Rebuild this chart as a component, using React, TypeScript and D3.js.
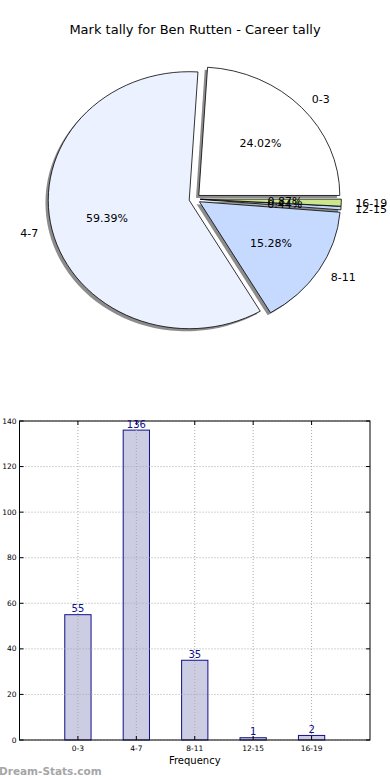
import * as React from 'react';
import * as d3 from 'd3';

// tally data
const categories: string[] = ['0-3', '4-7', '8-11', '12-15', '16-19'];
const counts: number[] = [55, 136, 35, 1, 2];
const sliceColors: string[] = ['#ffffff', '#ebf1ff', '#c6d9ff', '#c2d6ff', '#cce68e'];
const yTicks: number[] = [0, 20, 40, 60, 80, 100, 120, 140];

const title = 'Mark tally for Ben Rutten - Career tally';
const font = 'DejaVu Sans, sans-serif';

// pie geometry (matplotlib style: counter-clockwise from east, elliptical axes)
const pieCx = 194.7;
const pieCy = 199;
const rx = 141;
const ry = 128.5;
const explode = 0.04;
const shadowOffset = 0.02;

// bar chart frame
const plot = { left: 19.5, right: 370, top: 421, bottom: 740 };

const PieChart: React.FC = () => {
	const total = d3.sum(counts);
	// d3 angle a = PI/2 - theta, so going CCW in theta means decreasing a
	const pie = d3
		.pie<number>()
		.sort(null)
		.value((d) => d)
		.startAngle(Math.PI / 2)
		.endAngle(Math.PI / 2 - 2 * Math.PI);
	const arcs = pie(counts);
	const arc = d3.arc<d3.PieArcDatum<number>>().innerRadius(0).outerRadius(1);

	const items = arcs.map((a, i) => {
		const mid = (a.startAngle + a.endAngle) / 2;
		const theta = Math.PI / 2 - mid;
		const c = Math.cos(theta);
		const s = Math.sin(theta);
		const x = pieCx + explode * rx * c;
		const y = pieCy - explode * ry * s;
		return { a, i, c, s, x, y };
	});

	return (
		<g>
			<text x={195} y={34} textAnchor="middle" fontFamily={font} fontSize={13} fill="#000">
				{title}
			</text>
			{items.map(({ a, i, x, y }) => (
				<path
					key={'sh' + i}
					d={arc(a) || ''}
					transform={`translate(${x - shadowOffset * rx},${y + shadowOffset * ry}) scale(${rx},${ry})`}
					fill="#8c8c8c"
					stroke="none"
				/>
			))}
			{items.map(({ a, i, x, y }) => (
				<path
					key={'w' + i}
					d={arc(a) || ''}
					transform={`translate(${x},${y}) scale(${rx},${ry})`}
					fill={sliceColors[i]}
					stroke="#000"
					strokeWidth={0.8}
					vectorEffect="non-scaling-stroke"
				/>
			))}
			{items.map(({ i, c, s, x, y }) => (
				<text
					key={'l' + i}
					x={x + 1.1 * rx * c}
					y={y - 1.1 * ry * s}
					dy="0.35em"
					textAnchor={c > 0 ? 'start' : 'end'}
					fontFamily={font}
					fontSize={11}
					fill="#000"
				>
					{categories[i]}
				</text>
			))}
			{items.map(({ i, c, s, x, y }) => (
				<text
					key={'p' + i}
					x={x + 0.6 * rx * c}
					y={y - 0.6 * ry * s}
					dy="0.35em"
					textAnchor="middle"
					fontFamily={font}
					fontSize={11}
					fill="#000"
				>
					{((counts[i] / total) * 100).toFixed(2) + '%'}
				</text>
			))}
		</g>
	);
};

const BarChart: React.FC = () => {
	const x = d3.scaleLinear().domain([-1, categories.length]).range([plot.left, plot.right]);
	const y = d3.scaleLinear().domain([0, 140]).range([plot.bottom, plot.top]);
	const barWidth = x(0.45) - x(0);
	const navy = '#10108a';

	return (
		<g>
			{counts.map((v, i) => (
				<rect
					key={'b' + i}
					x={x(i) - barWidth / 2}
					y={y(v)}
					width={barWidth}
					height={y(0) - y(v)}
					fill="#ccccE3"
					stroke={navy}
					strokeWidth={1}
				/>
			))}
			{/* dotted grid on top of bars */}
			{yTicks.map((t) => (
				<line key={'gy' + t} x1={plot.left} x2={plot.right} y1={y(t)} y2={y(t)} stroke="#aaaaaa" strokeWidth={1} strokeDasharray="1,2" />
			))}
			{categories.map((c, i) => (
				<line key={'gx' + c} x1={x(i)} x2={x(i)} y1={plot.top} y2={plot.bottom} stroke="#aaaaaa" strokeWidth={1} strokeDasharray="1,2" />
			))}
			<rect x={plot.left} y={plot.top} width={plot.right - plot.left} height={plot.bottom - plot.top} fill="none" stroke="#000" strokeWidth={1} />
			{yTicks.map((t) => (
				<g key={'ty' + t}>
					<line x1={plot.left} x2={plot.left + 4} y1={y(t)} y2={y(t)} stroke="#000" />
					<line x1={plot.right} x2={plot.right - 4} y1={y(t)} y2={y(t)} stroke="#000" />
					<text x={plot.left - 3} y={y(t)} dy="0.35em" textAnchor="end" fontFamily={font} fontSize={7.5} fill="#000">
						{t}
					</text>
				</g>
			))}
			{categories.map((c, i) => (
				<g key={'tx' + c}>
					<line x1={x(i)} x2={x(i)} y1={plot.bottom} y2={plot.bottom - 4} stroke="#000" />
					<line x1={x(i)} x2={x(i)} y1={plot.top} y2={plot.top + 4} stroke="#000" />
					<text x={x(i)} y={plot.bottom + 11} textAnchor="middle" fontFamily={font} fontSize={7.5} fill="#000">
						{c}
					</text>
				</g>
			))}
			{counts.map((v, i) => (
				<text key={'v' + i} x={x(i)} y={y(v) - 2.5} textAnchor="middle" fontFamily={font} fontSize={10} fill={navy}>
					{v}
				</text>
			))}
			<text x={(plot.left + plot.right) / 2} y={764} textAnchor="middle" fontFamily={font} fontSize={10} fill="#000">
				Frequency
			</text>
			<text x={-1} y={775} fontFamily={font} fontSize={10.5} fontWeight="bold" fill="#a6a6a6">
				Dream-Stats.com
			</text>
		</g>
	);
};

const App: React.FC = () => {
	return (
		<svg width={390} height={780} viewBox="0 0 390 780" style={{ position: 'absolute', left: 0, top: 0, background: '#fff' }}>
			<rect width={390} height={780} fill="#fff" />
			<PieChart />
			<BarChart />
		</svg>
	);
};

export default App;
